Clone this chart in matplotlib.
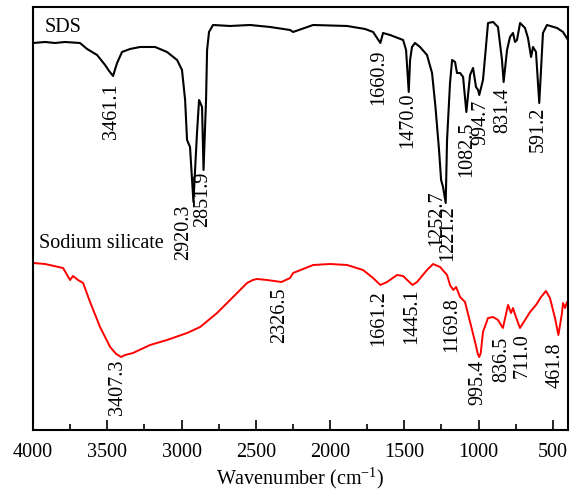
import numpy as np
import matplotlib
matplotlib.use("Agg")
import matplotlib.pyplot as plt
from matplotlib.ticker import MultipleLocator

plt.rcParams['font.family'] = ['Liberation Serif', 'DejaVu Serif']
plt.rcParams['mathtext.fontset'] = 'custom'
plt.rcParams['mathtext.rm'] = 'Liberation Serif'
plt.rcParams['mathtext.it'] = 'Liberation Serif:italic'

# FTIR spectra, transmittance in arbitrary units (offset)
sds_wn = [4000, 3919, 3852, 3785, 3684, 3636, 3569, 3515, 3488, 3461, 3447, 3434, 3401, 3347,
          3279, 3178, 3098, 3030, 2997, 2976, 2963, 2943, 2920, 2896, 2882, 2862,
          2852, 2835, 2828, 2815, 2788, 2673, 2539, 2404, 2269, 2249, 2114, 1885,
          1764, 1710, 1661, 1643, 1596, 1508, 1488, 1470, 1461, 1448, 1428, 1394,
          1347, 1313, 1290, 1266, 1252, 1239, 1221, 1212, 1192, 1178, 1158, 1145, 1124,
          1104, 1082, 1057, 1037, 1017, 1003, 995, 970, 956, 936, 902, 869, 842, 831,
          808, 788, 768, 754, 741, 720, 687, 667, 646, 633, 613, 591, 566, 539,
          471, 431, 397]
sds_t = [387, 388, 387, 388, 387, 381, 375, 365, 359, 354, 361, 367, 378, 381,
         383, 383, 378, 370, 360, 330, 290, 283, 228, 297, 330, 323,
         260, 330, 380, 398, 405, 404, 405, 403, 400, 398, 405, 404,
         401, 398, 387, 397, 395, 390, 380, 338, 370, 383, 387, 383,
         375, 357, 323, 280, 250, 243, 227, 290, 347, 370, 368, 357, 357,
         353, 318, 355, 362, 343, 340, 335, 350, 373, 407, 408, 403, 370, 348,
         380, 393, 397, 388, 390, 407, 402, 392, 373, 383, 378, 327, 397, 405,
         402, 398, 390]

ss_wn = [4000, 3919, 3798, 3751, 3731, 3697, 3663, 3616, 3549, 3481, 3440, 3407, 3380, 3327,
         3212, 3098, 2963, 2875, 2761, 2653, 2559, 2520, 2492, 2424, 2327, 2269, 2249,
         2114, 2000, 1885, 1778, 1710, 1661, 1616, 1549, 1508, 1445, 1414, 1347,
         1306, 1259, 1212, 1192, 1170, 1151, 1124, 1091, 1057, 1020, 1005, 995, 985, 970,
         936, 902, 869, 836, 801, 781, 768, 748, 721, 687, 653, 613, 579, 546, 519, 485,
         462, 438, 431, 417, 404, 397]
ss_t = [167, 166, 162, 150, 154, 150, 147, 128, 103, 83, 76, 73, 75, 77,
        85, 90, 97, 103, 117, 133, 147, 150, 151, 150, 148, 152, 157,
        165, 166, 165, 160, 152, 145, 148, 155, 154, 145, 148, 160,
        166, 163, 155, 145, 140, 143, 133, 128, 108, 86, 76, 73, 77, 98,
        112, 113, 110, 102, 125, 117, 122, 113, 102, 110, 118, 125, 133, 139, 132, 112,
        95, 117, 127, 122, 128, 125]

# peak labels: value, label x, label top
sds_peaks = [3461.1, 2920.3, 2851.9, 1660.9, 1470.0, 1252.7, 1221.2, 1082.5, 994.7, 831.4, 591.2]
sds_lab_x = [3469, 2989, 2855, 1675, 1474, 1279, 1205, 1077, 983, 835, 598]
sds_lab_top = [347, 225, 258, 380, 337, 240, 225, 308, 330, 342, 323]

ss_peaks = [3407.3, 2326.5, 1661.2, 1445.1, 1169.8, 995.4, 836.5, 711.0, 461.8]
ss_lab_x = [3434, 2337, 1675, 1448, 1178, 1003, 842, 706, 482]
ss_lab_top = [70, 143, 140, 142, 133, 70, 93, 97, 88]

fig = plt.figure(figsize=(5.7, 4.92), dpi=100)
ax = fig.add_axes([0.058, 0.126, 0.9386, 0.8598])

ax.plot(sds_wn, sds_t, color='black', lw=1.5)
ax.plot(ss_wn, ss_t, color='red', lw=1.4)

fs = 14.5
for p, x, top in zip(sds_peaks, sds_lab_x, sds_lab_top):
    ax.text(x, top, f"{p:.1f}", rotation=90, ha='center', va='top', fontsize=fs)
for p, x, top in zip(ss_peaks, ss_lab_x, ss_lab_top):
    ax.text(x, top, f"{p:.1f}", rotation=90, ha='center', va='top', fontsize=fs)

ax.text(3919, 398, "SDS", fontsize=fs, va='baseline')
ax.text(3960, 182, "Sodium silicate", fontsize=fs, va='baseline')

ax.set_xlim(4000, 397)
ax.set_ylim(0, 423)
ax.set_yticks([])
ax.xaxis.set_major_locator(MultipleLocator(500))
ax.xaxis.set_minor_locator(MultipleLocator(250))
ax.tick_params(axis='x', which='major', direction='in', length=7.5, width=1.2, labelsize=fs, pad=9)
ax.tick_params(axis='x', which='minor', direction='in', length=4, width=1.2)
for s in ax.spines.values():
    s.set_linewidth(1.5)
ax.set_xlabel("Wavenumber (cm$^{-1}$)", fontsize=fs, labelpad=3)

fig.savefig("out.png", dpi=100)
